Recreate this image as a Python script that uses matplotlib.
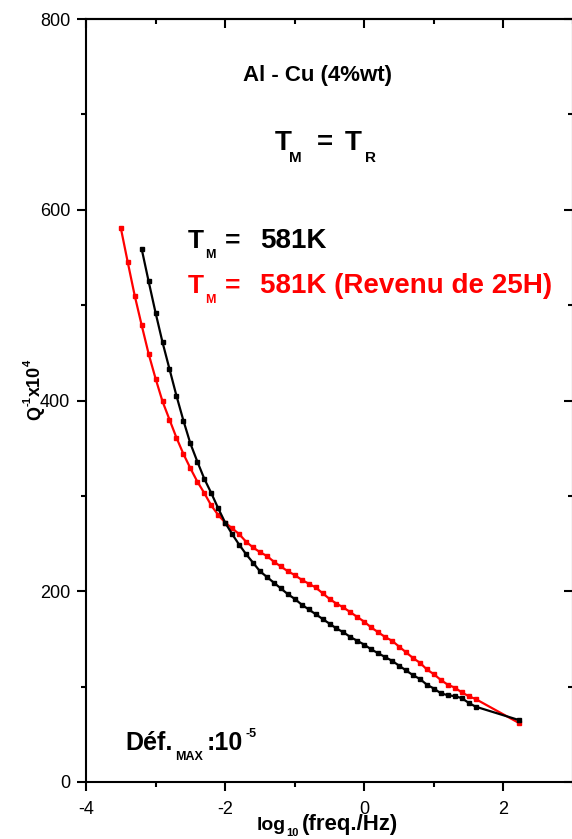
import matplotlib
matplotlib.use("Agg")
import matplotlib.pyplot as plt

W, H = 572, 839
plt.rcParams['font.family'] = ['Liberation Sans', 'DejaVu Sans']

red_x = [-3.5, -3.4, -3.3, -3.2, -3.1, -3.0, -2.9, -2.8, -2.7, -2.6, -2.5, -2.4, -2.3, -2.2, -2.1,
         -2.0, -1.9, -1.8, -1.7, -1.6, -1.5, -1.4, -1.3, -1.2, -1.1, -1.0, -0.9, -0.8, -0.7, -0.6,
         -0.5, -0.4, -0.3, -0.2, -0.1, 0.0, 0.1, 0.2, 0.3, 0.4, 0.5, 0.6, 0.7, 0.8, 0.9, 1.0, 1.1,
         1.2, 1.3, 1.4, 1.5, 1.6, 2.22]
red_y = [581, 545, 510, 479, 449, 423, 399, 380, 361, 344, 329, 315, 303, 290, 280,
         272, 266, 260, 252, 246, 241, 237, 231, 226, 221, 217, 212, 208, 204, 198,
         192, 187, 183, 178, 173, 168, 162, 157, 152, 148, 142, 136, 130, 125, 118, 113, 107,
         102, 99, 94, 90, 87, 62]

black_x = [-3.2, -3.1, -3.0, -2.9, -2.8, -2.7, -2.6, -2.5, -2.4, -2.3, -2.2, -2.1,
           -2.0, -1.9, -1.8, -1.7, -1.6, -1.5, -1.4, -1.3, -1.2, -1.1, -1.0, -0.9, -0.8, -0.7, -0.6,
           -0.5, -0.4, -0.3, -0.2, -0.1, 0.0, 0.1, 0.2, 0.3, 0.4, 0.5, 0.6, 0.7, 0.8, 0.9, 1.0, 1.1,
           1.2, 1.3, 1.4, 1.5, 1.6, 2.22]
black_y = [559, 525, 492, 461, 433, 405, 379, 355, 336, 318, 303, 287,
           272, 260, 249, 239, 230, 221, 215, 209, 203, 197, 192, 186, 181, 176, 171,
           166, 161, 157, 152, 148, 144, 139, 135, 131, 127, 122, 117, 112, 108, 102, 98, 93,
           91, 90, 88, 83, 79, 65]

x_major = [-4, -2, 0, 2]
x_minor = [-3, -1, 1, 3]
y_major = [0, 200, 400, 600, 800]
y_minor = [100, 300, 500, 700]

fig = plt.figure(figsize=(W / 100, H / 100), dpi=100)
ax = fig.add_axes([86 / W, 1 - 782 / H, (573 - 86) / W, (782 - 19) / H])

ax.plot(black_x, black_y, '-s', color='black', lw=1.6, ms=3.5, zorder=3)
ax.plot(red_x, red_y, '-s', color='#ff0000', lw=1.6, ms=3.5, zorder=2)

ax.set_xlim(-4, 3)
ax.set_ylim(0, 800)
ax.set_xticks(x_major)
ax.set_xticks(x_minor, minor=True)
ax.set_yticks(y_major)
ax.set_yticks(y_minor, minor=True)
ax.set_xticklabels([str(v) for v in x_major])
ax.set_yticklabels([str(v) for v in y_major])

for s in ax.spines.values():
    s.set_linewidth(1.5)
ax.tick_params(which='major', direction='out', length=6.5, width=1.5, labelsize=13, pad=5)
ax.tick_params(which='minor', direction='out', length=3.6, width=1.5)
ax.tick_params(axis='x', which='major', pad=7)

top = ax.secondary_xaxis('top')
top.set_xticks(x_major)
top.set_xticks(x_minor, minor=True)
top.tick_params(which='major', direction='in', length=6.5, width=1.5, labeltop=False)
top.tick_params(which='minor', direction='in', length=3.6, width=1.5)
top.spines['top'].set_linewidth(1.5)

right = ax.secondary_yaxis('right')
right.set_yticks(y_major)
right.set_yticks(y_minor, minor=True)
right.tick_params(which='major', direction='in', length=6.5, width=1.5, labelright=False)
right.tick_params(which='minor', direction='in', length=3.6, width=1.5)


def piece(x, y, s, size, color='black', rot=0):
    fig.text(x / W, 1 - y / H, s, fontsize=size, fontweight='bold', color=color,
             ha='left', va='baseline', rotation=rot, rotation_mode='anchor')


# title block
piece(243, 81, 'Al - Cu (4%wt)', 16)
piece(275, 150, 'T', 20)
piece(289, 162, 'M', 11)
piece(317, 150, '=', 20)
piece(345, 150, 'T', 20)
piece(365, 162, 'R', 11)

# legend-like texts
piece(188, 248, 'T', 19)
piece(205, 258, 'M', 9)
piece(225, 248, '=', 19)
piece(260, 248, '581K', 20)
piece(188, 293, 'T', 19, color='#ff0000')
piece(205, 303, 'M', 9, color='#ff0000')
piece(225, 293, '=', 19, color='#ff0000')
piece(260, 293, '581K (Revenu de 25H)', 20, color='#ff0000')

# Déf.MAX:10^-5
piece(125, 750, 'Déf.', 18)
piece(175, 760, 'MAX', 9)
piece(207, 750, ':10', 18)
piece(245, 737, '-5', 9)

# x label
piece(257, 830, 'log', 14)
piece(286, 836, '10', 8)
piece(302, 830, '(freq./Hz)', 16)

# y label (rotated)
piece(40, 420, 'Q', 13, rot=90)
piece(31, 406, '-1', 8, rot=90)
piece(40, 396, 'x10', 13, rot=90)
piece(31, 366, '4', 8, rot=90)

fig.savefig('out.png', dpi=100)
